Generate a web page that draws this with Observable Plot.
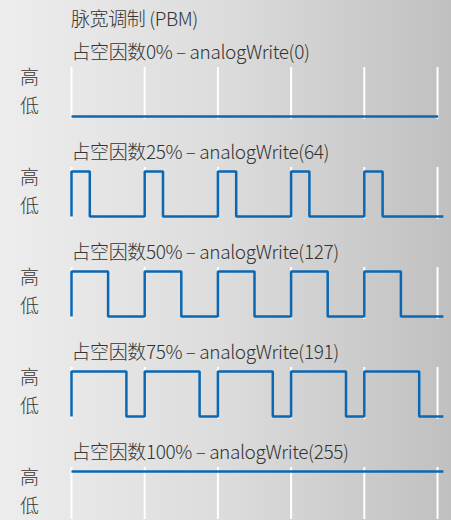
<!DOCTYPE html>
<html>
<head>
<meta charset="utf-8">
<script src="https://cdn.jsdelivr.net/npm/d3@7"></script>
<script src="https://cdn.jsdelivr.net/npm/@observablehq/plot@0.6"></script>
<style>
  html, body { margin: 0; padding: 0; }
  body {
    width: 451px; height: 520px; overflow: hidden;
    background: linear-gradient(to right, #ededed 0%, #dcdcdc 50%, #c0c0c0 100%);
    font-family: "Noto Sans CJK SC", sans-serif;
    font-weight: 300;
    color: #333;
  }
  #title { height: 36px; line-height: 36px; padding-left: 71px; font-size: 19px; letter-spacing: -0.4px; }
  #chart svg text { letter-spacing: -0.4px; font-weight: 300; }
</style>
</head>
<body>
<div id="title"></div>
<div id="chart"></div>
<script>
// Data
const chartTitle = "脉宽调制 (PBM)";
const dutyPercent = [0, 25, 50, 75, 100];           // duty cycle per panel
const analogValue = [0, 64, 127, 191, 255];         // analogWrite() argument per panel
const periodMarks = [0, 1, 2, 3, 4, 5];             // PWM period boundaries (grid)
const lineEnd = [5.01, 5.08, 5.08, 5.08, 5.08];     // where each trace stops (in periods)
const levelNames = ["低", "高"];                     // low / high labels

document.getElementById("title").textContent = chartTitle;

const panels = dutyPercent.map((d, i) => ({
  panel: i,
  label: `占空因数${d}% – analogWrite(${analogValue[i]})`
}));

// Build the step trace for each panel from its duty cycle
const trace = [];
dutyPercent.forEach((d, i) => {
  const f = d / 100;
  if (f === 0 || f === 1) {
    trace.push({panel: i, t: 0, level: f}, {panel: i, t: lineEnd[i], level: f});
    return;
  }
  periodMarks.slice(0, -1).forEach(k => {
    trace.push({panel: i, t: k, level: 0}, {panel: i, t: k, level: 1},
               {panel: i, t: k + f, level: 1}, {panel: i, t: k + f, level: 0});
  });
  trace.push({panel: i, t: lineEnd[i], level: 0});
});

const chart = Plot.plot({
  width: 451,
  height: 484,
  marginTop: 31,
  marginBottom: 1,
  marginLeft: 71,
  marginRight: 14,
  style: {background: "transparent", fontSize: "19px", fontFamily: "'Noto Sans CJK SC', sans-serif", color: "#333"},
  x: {domain: [0, 5], axis: null},
  y: {domain: [0, 1], insetTop: 4, insetBottom: 3},
  fy: {domain: panels.map(p => p.panel), paddingInner: 0.48, paddingOuter: 0, axis: null},
  marks: [
    Plot.ruleX(periodMarks, {x: d => d, stroke: "white", strokeWidth: 2}),
    Plot.axisY([0.21, 0.855], {
      tickSize: 0, tickPadding: 33, label: null,
      tickFormat: d => levelNames[d > 0.5 ? 1 : 0],
      fill: "#333"
    }),
    Plot.line(trace, {
      x: "t", y: "level", z: "panel", fy: "panel",
      stroke: "#0b67b1", strokeWidth: 2.5,
      strokeLinejoin: "miter", strokeLinecap: "butt"
    }),
    Plot.text(panels, {
      fy: "panel", text: "label",
      frameAnchor: "top-left", textAnchor: "start", lineAnchor: "middle",
      dy: -15, fill: "#333"
    })
  ]
});
document.getElementById("chart").appendChild(chart);
</script>
</body>
</html>
